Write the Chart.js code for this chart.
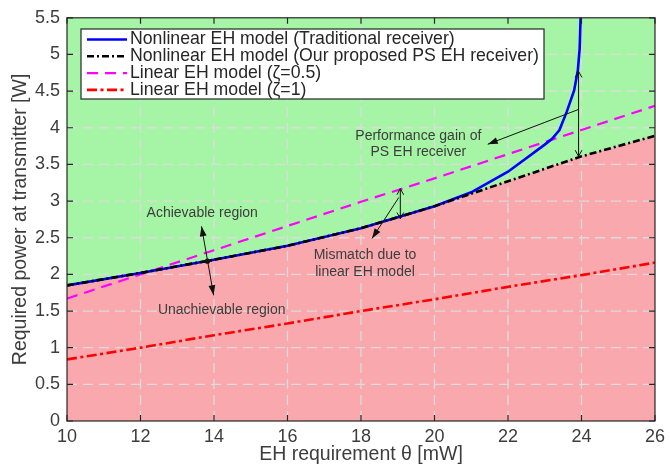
<!DOCTYPE html>
<html>
<head>
<meta charset="utf-8">
<script src="https://cdn.jsdelivr.net/npm/chart.js@4.4.1/dist/chart.umd.min.js"></script>
<style>
  html, body { margin: 0; padding: 0; background: #ffffff; }
  #wrap { width: 670px; height: 466px; }
</style>
</head>
<body>
<div id="wrap"><canvas id="c" width="670" height="466"></canvas></div>
<script>
// EH requirement theta [mW] and required transmit power [W]
const theta = [10, 12, 14, 16, 18, 20, 22, 24, 26];
const psReceiver = [1.85, 2.02, 2.20, 2.39, 2.63, 2.93, 3.27, 3.61, 3.89];
const tradTheta = [10, 12, 14, 16, 18, 20, 21, 22, 23, 23.2, 23.4, 23.6, 23.8, 23.9, 23.95, 24];
const tradReceiver = [1.85, 2.02, 2.20, 2.39, 2.63, 2.93, 3.12, 3.40, 3.77, 3.85, 3.97, 4.22, 4.51, 4.78, 5.08, 5.9];
const linearHalf = [1.67, 2.00, 2.33, 2.66, 2.99, 3.31, 3.64, 3.97, 4.30];
const linearOne = [0.84, 1.00, 1.17, 1.33, 1.50, 1.66, 1.83, 1.99, 2.16];

const xTicks = [10, 12, 14, 16, 18, 20, 22, 24, 26];
const yTicks = [0, 0.5, 1, 1.5, 2, 2.5, 3, 3.5, 4, 4.5, 5, 5.5];

const seriesNames = [
  'Nonlinear EH model (Traditional receiver)',
  'Nonlinear EH model (Our proposed PS EH receiver)',
  'Linear EH model (\u03B6=0.5)',
  'Linear EH model (\u03B6=1)'
];

// Text notes and arrows, placed in data coordinates
const regionNotes = [
  { lines: ['Achievable region'], x: 13.68, y: 2.83 },
  { lines: ['Unachievable region'], x: 14.21, y: 1.51 },
  { lines: ['Mismatch due to', 'linear EH model'], x: 18.11, y: 2.26 },
  { lines: ['Performance gain of', 'PS EH receiver'], x: 19.56, y: 3.89 }
];
const pointers = [
  { from: [13.66, 2.655], to: [13.99, 1.715], both: true, head: 'filled' },
  { from: [19.07, 3.17], to: [19.07, 2.76], both: true, head: 'open' },
  { from: [19.03, 3.05], to: [18.30, 2.49], both: false, head: 'filled' },
  { from: [23.92, 4.77], to: [23.92, 3.61], both: true, head: 'open' },
  { from: [23.92, 4.25], to: [21.45, 3.775], both: false, head: 'filled' }
];
const crossingDot = [13.82, 2.18];

const FONT = "'Liberation Sans', Arial, Helvetica, sans-serif";
const INK = '#262626';
const LABEL = '#3d3d3d';
const GREEN = '#a6f5a6';
const PINK = '#f9a8ae';

const pts = (xs, ys) => xs.map((v, i) => ({ x: v, y: ys[i] }));

function headAt(ctx, tx, ty, fx, fy, style) {
  const ang = Math.atan2(ty - fy, tx - fx);
  if (style === 'filled') {
    const L = 10, W = 3.4;
    const bx = tx - L * Math.cos(ang), by = ty - L * Math.sin(ang);
    ctx.beginPath();
    ctx.moveTo(tx, ty);
    ctx.lineTo(bx + W * Math.sin(ang), by - W * Math.cos(ang));
    ctx.lineTo(bx - W * Math.sin(ang), by + W * Math.cos(ang));
    ctx.closePath();
    ctx.fill();
  } else {
    const L = 7, A = 0.5;
    ctx.beginPath();
    ctx.moveTo(tx - L * Math.cos(ang - A), ty - L * Math.sin(ang - A));
    ctx.lineTo(tx, ty);
    ctx.lineTo(tx - L * Math.cos(ang + A), ty - L * Math.sin(ang + A));
    ctx.stroke();
  }
}

const regionPlugin = {
  id: 'regionPlugin',
  beforeDatasetsDraw(chart) {
    const { ctx, chartArea: a } = chart;
    ctx.save();
    ctx.fillStyle = GREEN;
    ctx.fillRect(a.left, a.top, a.right - a.left, a.bottom - a.top);
    ctx.restore();
  },
  afterDatasetDraw(chart, args) {
    // dashed grid sits on top of the region fills, below the curves
    if (args.index !== 4) return;
    const { ctx, chartArea: a, scales: { x, y } } = chart;
    ctx.save();
    ctx.strokeStyle = '#dcdcdc';
    ctx.lineWidth = 1.3;
    ctx.setLineDash([10, 6]);
    x.ticks.forEach(t => {
      const px = x.getPixelForValue(t.value);
      if (px <= a.left + 1 || px >= a.right - 1) return;
      ctx.beginPath(); ctx.moveTo(px, a.bottom); ctx.lineTo(px, a.top); ctx.stroke();
    });
    y.ticks.forEach(t => {
      const py = y.getPixelForValue(t.value);
      if (py <= a.top + 1 || py >= a.bottom - 1) return;
      ctx.beginPath(); ctx.moveTo(a.left, py); ctx.lineTo(a.right, py); ctx.stroke();
    });
    ctx.restore();
  },
  afterDraw(chart) {
    const { ctx, chartArea: a, scales: { x, y } } = chart;
    ctx.save();
    // axes box with inward tick marks
    ctx.strokeStyle = INK;
    ctx.lineWidth = 1.2;
    ctx.setLineDash([]);
    ctx.strokeRect(a.left, a.top, a.right - a.left, a.bottom - a.top);
    const TL = 6;
    ctx.beginPath();
    x.ticks.forEach(t => {
      const px = x.getPixelForValue(t.value);
      ctx.moveTo(px, a.bottom); ctx.lineTo(px, a.bottom - TL);
      ctx.moveTo(px, a.top); ctx.lineTo(px, a.top + TL);
    });
    y.ticks.forEach(t => {
      const py = y.getPixelForValue(t.value);
      ctx.moveTo(a.left, py); ctx.lineTo(a.left + TL, py);
      ctx.moveTo(a.right, py); ctx.lineTo(a.right - TL, py);
    });
    ctx.stroke();

    // arrows
    ctx.strokeStyle = '#111';
    ctx.fillStyle = '#111';
    ctx.lineWidth = 1;
    pointers.forEach(p => {
      const fx = x.getPixelForValue(p.from[0]), fy = y.getPixelForValue(p.from[1]);
      const tx = x.getPixelForValue(p.to[0]), ty = y.getPixelForValue(p.to[1]);
      ctx.beginPath(); ctx.moveTo(fx, fy); ctx.lineTo(tx, ty); ctx.stroke();
      headAt(ctx, tx, ty, fx, fy, p.head);
      if (p.both) headAt(ctx, fx, fy, tx, ty, p.head);
    });
    ctx.beginPath();
    ctx.arc(x.getPixelForValue(crossingDot[0]), y.getPixelForValue(crossingDot[1]), 2.6, 0, Math.PI * 2);
    ctx.fill();

    // notes
    ctx.fillStyle = LABEL;
    ctx.font = '14px ' + FONT;
    ctx.textAlign = 'center';
    ctx.textBaseline = 'middle';
    regionNotes.forEach(n => {
      const cx = x.getPixelForValue(n.x), cy = y.getPixelForValue(n.y);
      n.lines.forEach((s, i) => ctx.fillText(s, cx, cy + i * 16.7));
    });

    // legend box
    const L = { left: 81, top: 29, right: 544, bottom: 99 };
    ctx.fillStyle = '#ffffff';
    ctx.fillRect(L.left, L.top, L.right - L.left, L.bottom - L.top);
    ctx.strokeStyle = INK;
    ctx.lineWidth = 1.2;
    ctx.strokeRect(L.left, L.top, L.right - L.left, L.bottom - L.top);
    ctx.font = '17.7px ' + FONT;
    ctx.textAlign = 'left';
    ctx.textBaseline = 'middle';
    chart.data.datasets.slice(0, 4).forEach((ds, i) => {
      const ry = 39.5 + i * 16.8;
      ctx.strokeStyle = ds.borderColor;
      ctx.lineWidth = ds.borderWidth;
      ctx.setLineDash(ds.borderDash || []);
      ctx.beginPath(); ctx.moveTo(87, ry); ctx.lineTo(127, ry); ctx.stroke();
      ctx.setLineDash([]);
      ctx.fillStyle = INK;
      ctx.fillText(ds.label, 130, ry);
    });
    ctx.restore();
  }
};

new Chart(document.getElementById('c'), {
  type: 'line',
  data: {
    datasets: [
      { label: seriesNames[0], data: pts(tradTheta, tradReceiver), borderColor: '#0000ff', borderWidth: 2.6, order: 1 },
      { label: seriesNames[1], data: pts(theta, psReceiver), borderColor: '#000000', borderWidth: 2.6, borderDash: [7, 3, 2, 3], order: 0 },
      { label: seriesNames[2], data: pts(theta, linearHalf), borderColor: '#ff00ff', borderWidth: 2.2, borderDash: [11, 7], order: 2 },
      { label: seriesNames[3], data: pts(theta, linearOne), borderColor: '#ff0000', borderWidth: 2.6, borderDash: [10, 3.5, 3, 3.5], order: 3 },
      { label: 'Unachievable region', data: pts(theta, psReceiver), borderWidth: 0, borderColor: 'rgba(0,0,0,0)', backgroundColor: PINK, fill: 'origin', order: 10 }
    ]
  },
  options: {
    responsive: false,
    devicePixelRatio: 1,
    animation: false,
    events: [],
    layout: { padding: { left: 0, right: 14, top: 17, bottom: 0 } },
    elements: { point: { radius: 0 }, line: { tension: 0 } },
    plugins: { legend: { display: false }, tooltip: { enabled: false } },
    scales: {
      x: {
        type: 'linear', min: 10, max: 26,
        afterBuildTicks: s => { s.ticks = xTicks.map(v => ({ value: v })); },
        afterFit: s => { s.height = 45; },
        grid: { display: false, drawTicks: false },
        border: { display: false },
        ticks: { autoSkip: false, maxRotation: 0, padding: 5, color: LABEL, font: { family: FONT, size: 18 }, callback: v => String(v) },
        title: { display: true, text: 'EH requirement \u03B8 [mW]', color: LABEL, font: { family: FONT, size: 19.5 }, padding: { top: 0, bottom: 0 } }
      },
      y: {
        type: 'linear', min: 0, max: 5.5,
        afterBuildTicks: s => { s.ticks = yTicks.map(v => ({ value: v })); },
        afterFit: s => { s.width = 67; },
        grid: { display: false, drawTicks: false },
        border: { display: false },
        ticks: { autoSkip: false, padding: 7, color: LABEL, font: { family: FONT, size: 18 }, callback: v => String(v) },
        title: { display: true, text: 'Required power at transmitter [W]', color: LABEL, font: { family: FONT, size: 19.5 }, padding: { top: 9, bottom: 0 } }
      }
    }
  },
  plugins: [regionPlugin]
});
</script>
</body>
</html>
